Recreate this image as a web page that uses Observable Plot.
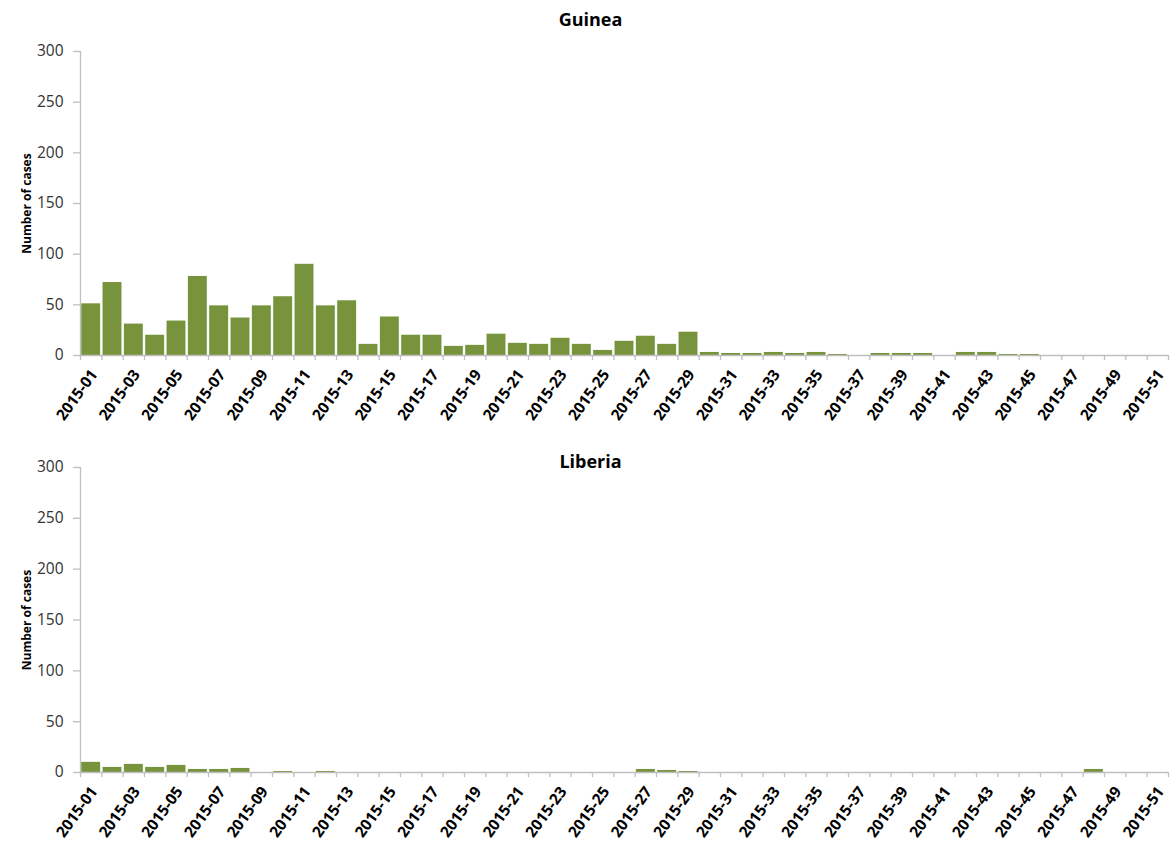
<!DOCTYPE html>
<html><head><meta charset="utf-8">
<script src="https://cdn.jsdelivr.net/npm/d3@7"></script>
<script src="https://cdn.jsdelivr.net/npm/@observablehq/plot@0.6"></script>
<style>
html,body{margin:0;padding:0;background:#fff;overflow:hidden;}
#chart svg{display:block;}
</style></head><body><div id="chart"></div>
<script>
const weeks = ["2015-01","2015-02","2015-03","2015-04","2015-05","2015-06","2015-07","2015-08","2015-09","2015-10",
  "2015-11","2015-12","2015-13","2015-14","2015-15","2015-16","2015-17","2015-18","2015-19","2015-20",
  "2015-21","2015-22","2015-23","2015-24","2015-25","2015-26","2015-27","2015-28","2015-29","2015-30",
  "2015-31","2015-32","2015-33","2015-34","2015-35","2015-36","2015-37","2015-38","2015-39","2015-40",
  "2015-41","2015-42","2015-43","2015-44","2015-45","2015-46","2015-47","2015-48","2015-49","2015-50","2015-51"];
const guineaCases = [51,72,31,20,34,78,49,37,49,58,90,49,54,11,38,
  20,20,9,10,21,12,11,17,11,5,14,19,11,23,
  3,2,2,3,2,3,1,0,2,2,2,0,3,3,1,1,
  0,0,0,0,0,0];
const liberiaCases = [10,5,8,5,7,3,3,4,0,1,0,1,0,0,0,
  0,0,0,0,0,0,0,0,0,0,0,3,2,1,
  0,0,0,0,0,0,0,0,0,0,0,0,0,0,0,0,
  0,0,3,0,0,0];
const yTicks = [0,50,100,150,200,250,300];
const yLabel = "Number of cases";
const barColor = "#77933c";
const axisColor = "#bfbfbf";

function panel(name, values, opts) {
  const data = weeks.map((w, i) => ({week: w, idx: i + 1, cases: values[i]}));
  const bounds = d3.range(weeks.length + 1).map(i => i + 0.5);
  const labelData = data.filter((d, i) => i % 2 === 0);
  const x0 = bounds[0];
  return Plot.plot({
    width: 1172, height: opts.height,
    marginTop: opts.marginTop, marginBottom: opts.marginBottom,
    marginLeft: 80, marginRight: 4,
    style: {fontFamily: "'Open Sans', sans-serif", background: "#fff", overflow: "visible"},
    x: {type: "linear", domain: [x0, bounds[bounds.length - 1]], axis: null},
    y: {domain: [0, 300], axis: null},
    marks: [
      Plot.rectY(data, {x1: d => d.idx - 0.5, x2: d => d.idx + 0.5, y: "cases", fill: barColor, insetLeft: 1.2, insetRight: 1.2}),
      Plot.ruleY([0], {stroke: axisColor, strokeWidth: 1.3}),
      Plot.ruleX([x0], {stroke: axisColor, strokeWidth: 1.3}),
      Plot.axisX({ticks: bounds, tickSize: 5, tickFormat: () => "", stroke: axisColor, strokeWidth: 1.3, label: null}),
      Plot.text(labelData, {x: "idx", text: "week", frameAnchor: "bottom", dx: 7, dy: 19, rotate: -54, textAnchor: "end",
        fontSize: 15.5, fontWeight: "bold", fill: "#000"}),
      Plot.axisY({ticks: yTicks, tickSize: 7, tickFormat: () => "", stroke: axisColor, strokeWidth: 1.3, label: null}),
      Plot.text(yTicks, {x: x0, y: d => d, text: d => String(d), dx: -17, textAnchor: "end", fontSize: 15.5, fill: "#333"}),
      Plot.text([yLabel], {frameAnchor: "left", dx: -53, rotate: -90, fontSize: 12, fontWeight: "bold", fill: "#000", textAnchor: "middle"}),
      Plot.text([name], {frameAnchor: "top", dx: -34, dy: opts.titleDy, fontSize: 18, fontWeight: "bold", fill: "#000"})
    ]
  });
}

const chart = document.getElementById("chart");
chart.appendChild(panel("Guinea", guineaCases, {height: 440, marginTop: 51, marginBottom: 85, titleDy: -38}));
chart.appendChild(panel("Liberia", liberiaCases, {height: 404, marginTop: 27, marginBottom: 72, titleDy: -12}));
</script></body></html>
